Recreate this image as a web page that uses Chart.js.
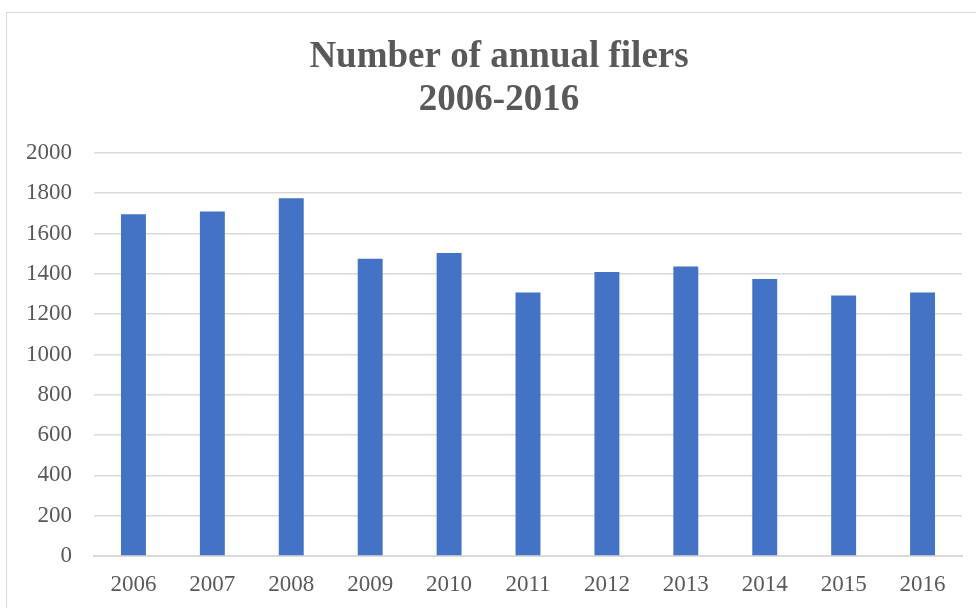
<!DOCTYPE html>
<html>
<head>
<meta charset="utf-8">
<script src="https://cdn.jsdelivr.net/npm/chart.js@4/dist/chart.umd.min.js"></script>
<style>
  html, body { margin: 0; padding: 0; background: #ffffff; }
  #wrap { position: relative; width: 976px; height: 608px; overflow: hidden; }
  #frame { position: absolute; left: 6px; top: 12px; width: 1000px; height: 700px;
           border-left: 1.5px solid #d9d9d9; border-top: 1.5px solid #d9d9d9; pointer-events: none; }
  canvas { position: absolute; left: 0; top: 0; }
</style>
</head>
<body>
<div id="wrap">
  <canvas id="chart" width="976" height="608"></canvas>
  <div id="frame"></div>
</div>
<script>
const years = ['2006', '2007', '2008', '2009', '2010', '2011', '2012', '2013', '2014', '2015', '2016'];
const filers = [1696, 1710, 1775, 1475, 1504, 1308, 1410, 1437, 1375, 1293, 1308];
const titleLines = ['Number of annual filers', '2006-2016'];
const yMin = 0;
const yMax = 2000;
const yStep = 200;

const textColor = '#595959';
const serif = '"Liberation Serif", "Times New Roman", serif';

// Two-line bold title drawn above the plot
const titlePlugin = {
  id: 'twoLineTitle',
  afterDraw(chart) {
    const ctx = chart.ctx;
    ctx.save();
    ctx.fillStyle = textColor;
    ctx.font = 'bold 37px ' + serif;
    ctx.textAlign = 'center';
    ctx.textBaseline = 'middle';
    titleLines.forEach((line, i) => ctx.fillText(line, 499, 57 + i * 43));
    ctx.restore();
  }
};

new Chart(document.getElementById('chart'), {
  type: 'bar',
  data: {
    labels: years,
    datasets: [{
      label: 'Annual filers',
      data: filers,
      backgroundColor: '#4472c4',
      borderWidth: 0,
      categoryPercentage: 1,
      barPercentage: 0.316
    }]
  },
  options: {
    responsive: false,
    animation: false,
    devicePixelRatio: 1,
    layout: { padding: { top: 153, right: 14, bottom: 0, left: 0 } },
    plugins: {
      legend: { display: false },
      title: { display: false },
      tooltip: { enabled: false }
    },
    scales: {
      x: {
        grid: { display: false, drawTicks: false },
        border: { display: true, color: '#d9d9d9', width: 2 },
        ticks: {
          color: textColor,
          font: { family: serif, size: 23 },
          padding: 15,
          maxRotation: 0
        },
        afterFit(scale) { scale.height = 52; }
      },
      y: {
        min: yMin,
        max: yMax,
        grid: { color: '#d9d9d9', lineWidth: 1.6, drawTicks: false },
        border: { display: false },
        ticks: {
          stepSize: yStep,
          color: textColor,
          font: { family: serif, size: 23 },
          padding: 22,
          callback: (value) => String(value)
        },
        afterFit(scale) { scale.width = 94; }
      }
    }
  },
  plugins: [titlePlugin]
});
</script>
</body>
</html>
